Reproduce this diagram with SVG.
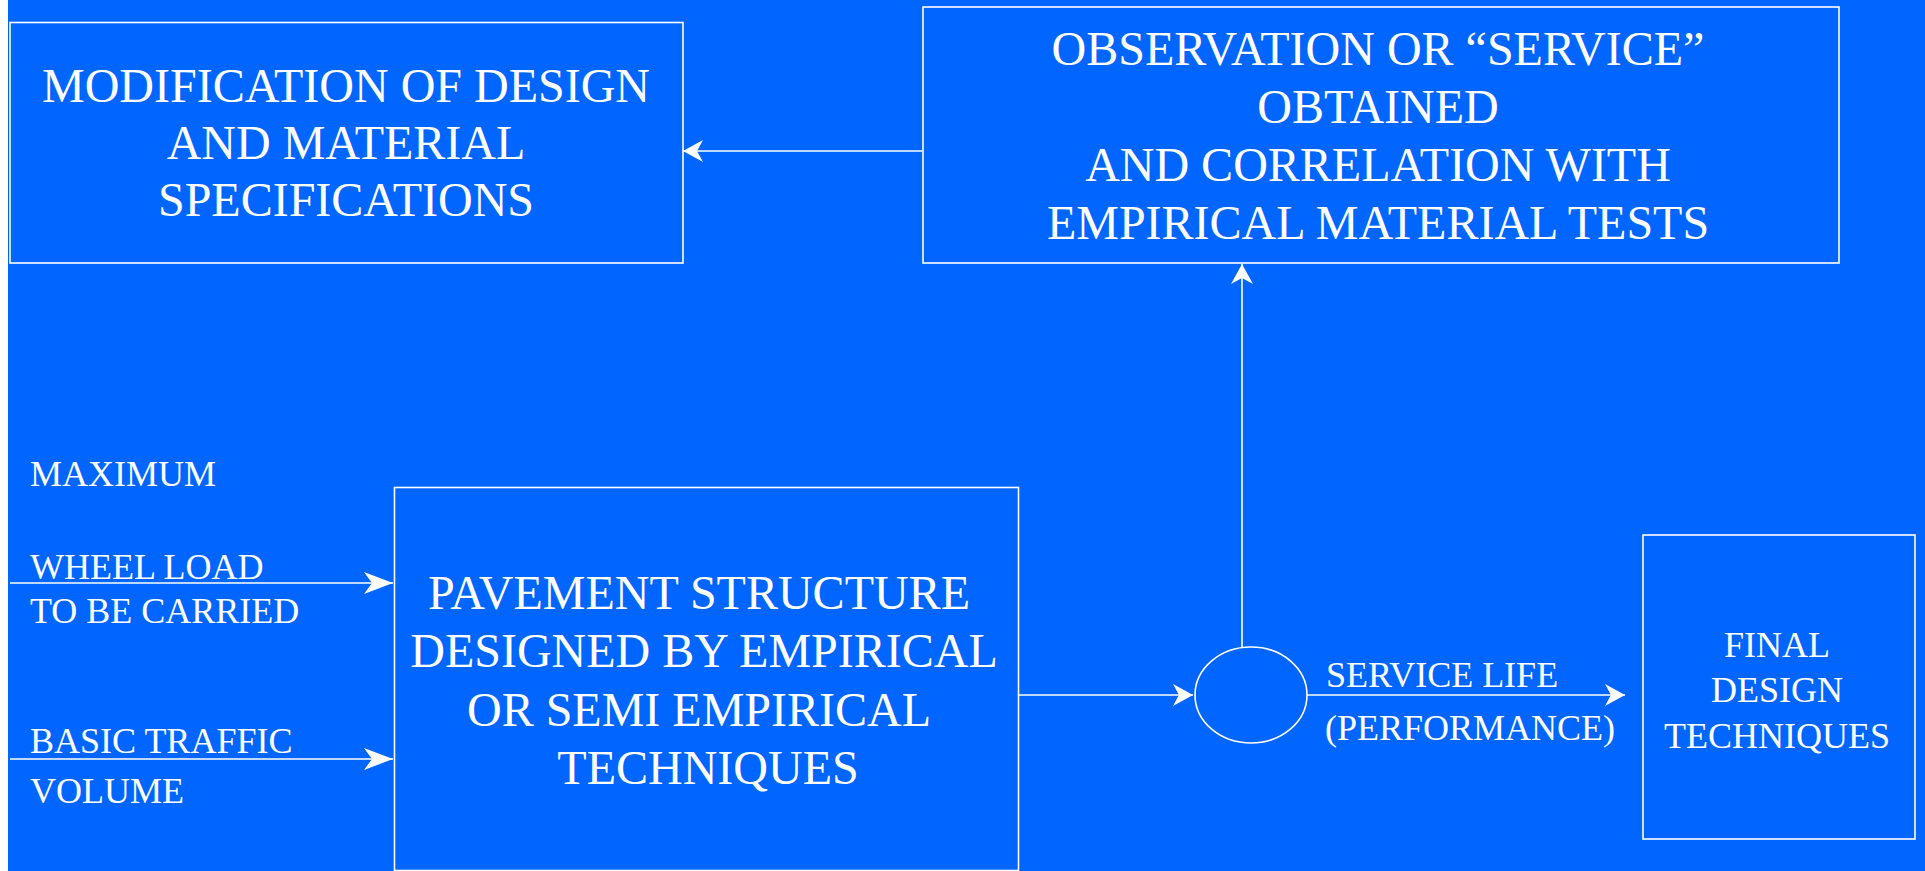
<svg xmlns="http://www.w3.org/2000/svg" width="1925" height="871" viewBox="0 0 1925 871">
<style>
.box{fill:none;stroke:#ffffff;stroke-width:1.6}
.ln{fill:none;stroke:#ffffff;stroke-width:1.6}
.t48{font-family:"Liberation Serif","Times New Roman",serif;font-size:48px;fill:#ffffff;text-anchor:middle}
.t36{font-family:"Liberation Serif","Times New Roman",serif;font-size:36px;fill:#ffffff}
.c{text-anchor:middle}
</style>
<defs>
<marker id="arrL" markerUnits="userSpaceOnUse" viewBox="-31 -12 33 24" markerWidth="33" markerHeight="24" refX="0" refY="0" orient="auto">
<path d="M0,0 L-29,-11 L-21,0 L-29,11 Z" fill="#ffffff"/>
</marker>
<marker id="arrS" markerUnits="userSpaceOnUse" viewBox="-22 -12 24 24" markerWidth="24" markerHeight="24" refX="0" refY="0" orient="auto">
<path d="M0,0 L-20,-11 L-14,0 L-20,11 Z" fill="#ffffff"/>
</marker>
</defs>
<rect x="0" y="0" width="1925" height="871" fill="#0066ff"/>
<rect x="0" y="0" width="8" height="871" fill="#ffffff"/>

<g id="modification">
<rect class="box" x="10" y="22.5" width="673" height="240.5"/>
<text class="t48" x="346" y="102">MODIFICATION OF DESIGN</text>
<text class="t48" x="346" y="159">AND MATERIAL</text>
<text class="t48" x="346" y="216">SPECIFICATIONS</text>
</g>

<g id="observation">
<rect class="box" x="923" y="7" width="916" height="256"/>
<text class="t48" x="1378" y="65">OBSERVATION OR “SERVICE”</text>
<text class="t48" x="1378" y="123">OBTAINED</text>
<text class="t48" x="1378" y="181">AND CORRELATION WITH</text>
<text class="t48" x="1378" y="239">EMPIRICAL MATERIAL TESTS</text>
</g>

<g id="inputs">
<text class="t36" x="30" y="486">MAXIMUM</text>
<text class="t36" x="30" y="579">WHEEL LOAD</text>
<text class="t36" x="30" y="623">TO BE CARRIED</text>
<text class="t36" x="30" y="753">BASIC TRAFFIC</text>
<text class="t36" x="30" y="803">VOLUME</text>
</g>

<g id="pavement">
<rect class="box" x="394.5" y="487.5" width="624" height="383"/>
<text class="t48" x="699" y="609">PAVEMENT STRUCTURE</text>
<text class="t48" x="704" y="667">DESIGNED BY EMPIRICAL</text>
<text class="t48" x="699" y="726">OR SEMI EMPIRICAL</text>
<text class="t48" x="708" y="784">TECHNIQUES</text>
</g>

<g id="junction">
<ellipse class="box" cx="1251" cy="695" rx="56" ry="48"/>
</g>

<g id="servicelife">
<text class="t36" x="1326" y="687">SERVICE LIFE</text>
<text class="t36" x="1325" y="740">(PERFORMANCE)</text>
</g>

<g id="final">
<rect class="box" x="1643" y="535" width="272" height="304"/>
<text class="t36 c" x="1777" y="657">FINAL</text>
<text class="t36 c" x="1777" y="702">DESIGN</text>
<text class="t36 c" x="1777" y="748">TECHNIQUES</text>
</g>

<g id="connectors">
<line class="ln" x1="922" y1="151" x2="683" y2="151" marker-end="url(#arrS)"/>
<line class="ln" x1="1242" y1="648" x2="1242" y2="264" marker-end="url(#arrS)"/>
<line class="ln" x1="10" y1="583" x2="393" y2="583" marker-end="url(#arrL)"/>
<line class="ln" x1="10" y1="759" x2="393" y2="759" marker-end="url(#arrL)"/>
<line class="ln" x1="1018" y1="695" x2="1193" y2="695" marker-end="url(#arrS)"/>
<line class="ln" x1="1307" y1="695" x2="1625" y2="695" marker-end="url(#arrS)"/>
</g>
</svg>
